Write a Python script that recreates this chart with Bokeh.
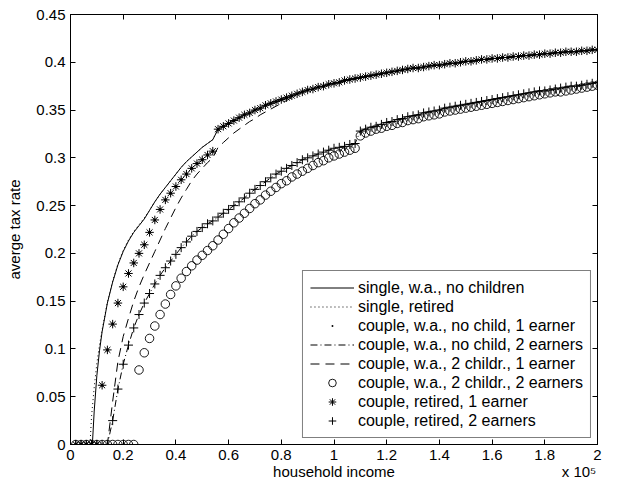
import numpy as np
from bokeh.plotting import figure
from bokeh.models import FixedTicker, LinearAxis, Legend, LegendItem, Range1d
from bokeh.embed import file_html
from bokeh.resources import INLINE

FONT = "Liberation Sans"

# ---------------- data (household income in units of 1e5) ----------------
# marker sampling grid 0.02 ... 2.00
xs = np.round(np.arange(1, 101) * 0.02, 2)

# common upper curve (x = 0.56 ... 2.00)
upper = [0.330, 0.333, 0.336, 0.339, 0.342, 0.345, 0.347, 0.350, 0.352, 0.355,
         0.357, 0.359, 0.361, 0.363, 0.365, 0.367, 0.369, 0.371, 0.372, 0.374,
         0.375, 0.377, 0.378,
         0.379, 0.381, 0.382, 0.383, 0.384, 0.385, 0.386, 0.387, 0.388, 0.389,
         0.390, 0.391, 0.392, 0.393, 0.394, 0.394, 0.395, 0.396, 0.397, 0.397,
         0.398, 0.399, 0.399, 0.400, 0.401, 0.401, 0.402, 0.403, 0.403, 0.404,
         0.404, 0.405, 0.405, 0.406, 0.406, 0.407, 0.407, 0.408, 0.408, 0.409,
         0.409, 0.410, 0.410, 0.411, 0.411, 0.411, 0.412, 0.412, 0.413, 0.413]

# single, w.a., no children (solid line)
single_wa_x = [0, 0.083, 0.09, 0.10, 0.11, 0.12, 0.14, 0.16, 0.18, 0.20, 0.22, 0.24,
               0.26, 0.28, 0.30, 0.32, 0.34, 0.36, 0.38, 0.40, 0.42, 0.44, 0.46,
               0.48, 0.50, 0.52, 0.54]
single_wa_y = [0, 0, 0.035, 0.072, 0.098, 0.118, 0.148, 0.170, 0.188, 0.202, 0.213,
               0.222, 0.229, 0.236, 0.245, 0.254, 0.262, 0.269, 0.276, 0.283, 0.290,
               0.296, 0.301, 0.306, 0.311, 0.315, 0.319]

# single, retired (dotted line)
single_ret_x = [0, 0.074, 0.08, 0.09, 0.10, 0.11, 0.12, 0.14, 0.16, 0.18, 0.20, 0.22,
                0.24, 0.26, 0.28, 0.30, 0.32, 0.34, 0.36, 0.38, 0.40, 0.42, 0.44,
                0.46, 0.48, 0.50, 0.52, 0.54]
single_ret_y = [0, 0, 0.030, 0.060, 0.085, 0.104, 0.120, 0.149, 0.171, 0.189, 0.203,
                0.214, 0.223, 0.230, 0.237, 0.245, 0.254, 0.262, 0.269, 0.276, 0.283,
                0.290, 0.296, 0.301, 0.306, 0.311, 0.315, 0.319]

# couple, w.a., no child, 1 earner (dots) ; x = 0.02 ... 0.54
couple_wa_1e_low = [0, 0, 0, 0, 0, 0.062, 0.099, 0.126, 0.148, 0.165, 0.179, 0.190,
                    0.200, 0.209, 0.222, 0.235, 0.246, 0.256, 0.263, 0.270, 0.277,
                    0.283, 0.289, 0.294, 0.298, 0.303, 0.307]

# couple, retired, 1 earner (asterisks) ; x = 0.02 ... 0.54
couple_ret_1e_low = [0, 0, 0, 0, 0, 0.062, 0.099, 0.126, 0.148, 0.165, 0.179, 0.190,
                     0.200, 0.209, 0.222, 0.235, 0.246, 0.256, 0.263, 0.270, 0.277,
                     0.283, 0.289, 0.294, 0.298, 0.303, 0.307]

# couple, w.a., 2 childr., 1 earner (dashed) ; x = 0.02 ... 0.84
couple_wa2c_1e_low = [0, 0, 0, 0, 0, 0, 0, 0.045, 0.087, 0.113, 0.132, 0.150, 0.165,
                      0.178, 0.190, 0.202, 0.214, 0.226, 0.237, 0.248, 0.258, 0.267,
                      0.276, 0.283, 0.289, 0.295, 0.300,
                      0.311, 0.316, 0.321, 0.326, 0.330, 0.334, 0.338, 0.341, 0.345,
                      0.348, 0.351, 0.354, 0.357, 0.360, 0.363]

# couple, retired, 2 earners (plus) ; x = 0.02 ... 1.08, then 1.10 ... 2.00
couple_ret_2e_low = [0, 0, 0, 0, 0, 0, 0, 0.025, 0.058, 0.084, 0.104, 0.122, 0.136,
                     0.148, 0.158, 0.168, 0.177, 0.185, 0.192, 0.199, 0.206, 0.212,
                     0.218, 0.223, 0.227, 0.231, 0.234, 0.238, 0.242, 0.246, 0.250,
                     0.254, 0.258, 0.263, 0.267, 0.271, 0.275, 0.279, 0.283, 0.286,
                     0.289, 0.292, 0.295, 0.298, 0.300, 0.302, 0.304, 0.306, 0.308,
                     0.310, 0.311, 0.312, 0.314, 0.315]
couple_ret_2e_high = [0.328, 0.330, 0.332, 0.333, 0.335, 0.337, 0.338, 0.340, 0.341,
                      0.343, 0.344, 0.345, 0.347, 0.348, 0.349, 0.350, 0.352, 0.353,
                      0.354, 0.355, 0.356, 0.357, 0.358, 0.359, 0.360, 0.361, 0.362,
                      0.363, 0.364, 0.365, 0.366, 0.367, 0.368, 0.369, 0.370, 0.370,
                      0.371, 0.372, 0.373, 0.374, 0.375, 0.375, 0.376, 0.377, 0.378,
                      0.379]

# couple, w.a., no child, 2 earners (dash-dot) -- coincides with retired 2 earners
couple_wa_2e_low = list(couple_ret_2e_low)
couple_wa_2e_high = list(couple_ret_2e_high)

# couple, w.a., 2 childr., 2 earners (circles)
couple_wa2c_2e_low = [0, 0, 0, 0, 0, 0, 0, 0, 0, 0, 0, 0,
                      0.078, 0.096, 0.111, 0.124, 0.136, 0.147, 0.157, 0.166, 0.174,
                      0.181, 0.187, 0.193, 0.198, 0.203, 0.208, 0.214, 0.220, 0.226,
                      0.232, 0.237, 0.242, 0.247, 0.252, 0.256, 0.261, 0.265, 0.269,
                      0.273, 0.276, 0.280, 0.283, 0.286, 0.289, 0.292, 0.295, 0.297,
                      0.300, 0.302, 0.304, 0.306, 0.308, 0.310]
couple_wa2c_2e_high = [0.323, 0.326, 0.328, 0.330, 0.331, 0.333, 0.334, 0.336, 0.337,
                       0.339, 0.340, 0.341, 0.343, 0.344, 0.345, 0.346, 0.348, 0.349,
                       0.350, 0.351, 0.352, 0.353, 0.354, 0.355, 0.356, 0.357, 0.358,
                       0.359, 0.360, 0.361, 0.362, 0.363, 0.364, 0.365, 0.366, 0.367,
                       0.368, 0.369, 0.369, 0.370, 0.371, 0.372, 0.373, 0.374, 0.375,
                       0.376]

x_ticks = [0, 0.2, 0.4, 0.6, 0.8, 1.0, 1.2, 1.4, 1.6, 1.8, 2.0]
x_tick_labels = ["0", "0.2", "0.4", "0.6", "0.8", "1", "1.2", "1.4", "1.6", "1.8", "2"]
y_ticks = [0, 0.05, 0.1, 0.15, 0.2, 0.25, 0.3, 0.35, 0.4, 0.45]
y_tick_labels = ["0", "0.05", "0.1", "0.15", "0.2", "0.25", "0.3", "0.35", "0.4", "0.45"]

x_title = "household income"
x_multiplier = "x 10\u2075"
y_title = "averge tax rate"

# ---------------- assemble series ----------------
x_up = list(xs[27:])                     # 0.56 ... 2.00

s1x = single_wa_x + x_up
s1y = single_wa_y + upper
s2x = single_ret_x + x_up
s2y = single_ret_y + upper
s3y = couple_wa_1e_low + upper
s4y = couple_wa_2e_low + couple_wa_2e_high
s5y = couple_wa2c_1e_low + upper[15:]
s6y = couple_wa2c_2e_low + couple_wa2c_2e_high
s7y = couple_ret_1e_low + upper
s8y = couple_ret_2e_low + couple_ret_2e_high
xall = list(xs)

# ---------------- figure ----------------
p = figure(width=602, height=482, output_backend="svg", toolbar_location=None,
           x_range=Range1d(0, 2), y_range=Range1d(0, 0.45),
           min_border_left=70, min_border_right=5, min_border_top=14,
           min_border_bottom=36)
p.background_fill_color = "white"
p.border_fill_color = "white"
p.outline_line_color = "black"
p.outline_line_width = 1
p.xgrid.grid_line_color = None
p.ygrid.grid_line_color = None

K = "black"
r1 = p.line(s1x, s1y, line_color=K, line_width=1)
r2 = p.line(s2x, s2y, line_color=K, line_width=1, line_dash="1 3")
r3 = p.scatter(xall, s3y, marker="dot", size=12, fill_color=K, line_color=K)
r4 = p.line(xall, s4y, line_color=K, line_width=1, line_dash="7 3 1 3")
r5 = p.line(xall, s5y, line_color=K, line_width=1, line_dash="9 6")
r6 = p.scatter(xall, s6y, marker="circle", size=8.5, fill_color=None,
               line_color=K, line_width=0.9)
r7 = p.scatter(xall, s7y, marker="asterisk", size=8.5, line_color=K, line_width=1)
r8 = p.scatter(xall, s8y, marker="cross", size=9, line_color=K, line_width=1)

# axes
for ax in (p.xaxis[0], p.yaxis[0]):
    ax.major_tick_in = 5
    ax.major_tick_out = 0
    ax.minor_tick_line_color = None
    ax.axis_line_color = K
    ax.major_tick_line_color = K
    ax.major_label_text_font = FONT
    ax.major_label_text_font_size = "15px"
    ax.major_label_text_color = K
    ax.axis_label_text_font = FONT
    ax.axis_label_text_font_size = "15px"
    ax.axis_label_text_font_style = "normal"
    ax.axis_label_text_color = K

p.xaxis.ticker = FixedTicker(ticks=x_ticks)
p.xaxis.major_label_overrides = dict(zip(x_ticks, x_tick_labels))
p.xaxis.major_label_standoff = 5

p.yaxis.ticker = FixedTicker(ticks=y_ticks)
p.yaxis.major_label_overrides = dict(zip(y_ticks, y_tick_labels))
p.yaxis.axis_label = y_title
p.yaxis.major_label_standoff = 5
p.yaxis.axis_label_standoff = 10

# second row below the x axis: axis title and multiplier
title_pos = [1.0, 1.93]
title_axis = LinearAxis(ticker=FixedTicker(ticks=title_pos),
                        major_label_overrides=dict(zip(title_pos, [x_title, x_multiplier])),
                        major_tick_in=0, major_tick_out=0, major_label_standoff=0,
                        minor_tick_line_color=None, axis_line_color=None,
                        major_tick_line_color=None,
                        major_label_text_font=FONT, major_label_text_font_size="15px",
                        major_label_text_color=K)
p.add_layout(title_axis, "below")

top = LinearAxis(ticker=FixedTicker(ticks=x_ticks),
                 major_label_overrides={t: "" for t in x_ticks},
                 major_tick_in=5, major_tick_out=0, major_label_standoff=0,
                 minor_tick_line_color=None, axis_line_color=K)
right = LinearAxis(ticker=FixedTicker(ticks=y_ticks),
                   major_label_overrides={t: "" for t in y_ticks},
                   major_tick_in=5, major_tick_out=0, major_label_standoff=0,
                   minor_tick_line_color=None, axis_line_color=K)
p.add_layout(top, "above")
p.add_layout(right, "right")

legend = Legend(items=[
    LegendItem(label="single, w.a., no children", renderers=[r1]),
    LegendItem(label="single, retired", renderers=[r2]),
    LegendItem(label="couple, w.a., no child, 1 earner", renderers=[r3]),
    LegendItem(label="couple, w.a., no child, 2 earners", renderers=[r4]),
    LegendItem(label="couple, w.a., 2 childr., 1 earner", renderers=[r5]),
    LegendItem(label="couple, w.a., 2 childr., 2 earners", renderers=[r6]),
    LegendItem(label="couple, retired, 1 earner", renderers=[r7]),
    LegendItem(label="couple, retired, 2 earners", renderers=[r8]),
], location="bottom_right")
legend.label_text_font = FONT
legend.label_text_font_size = "16px"
legend.label_text_color = K
legend.glyph_width = 44
legend.glyph_height = 19
legend.label_height = 19
legend.spacing = 0
legend.padding = 7
legend.margin = 6
legend.label_standoff = 4
legend.border_line_color = K
legend.border_line_width = 1
legend.background_fill_alpha = 1.0
p.add_layout(legend)

open("out.html", "w").write(file_html(p, INLINE))
